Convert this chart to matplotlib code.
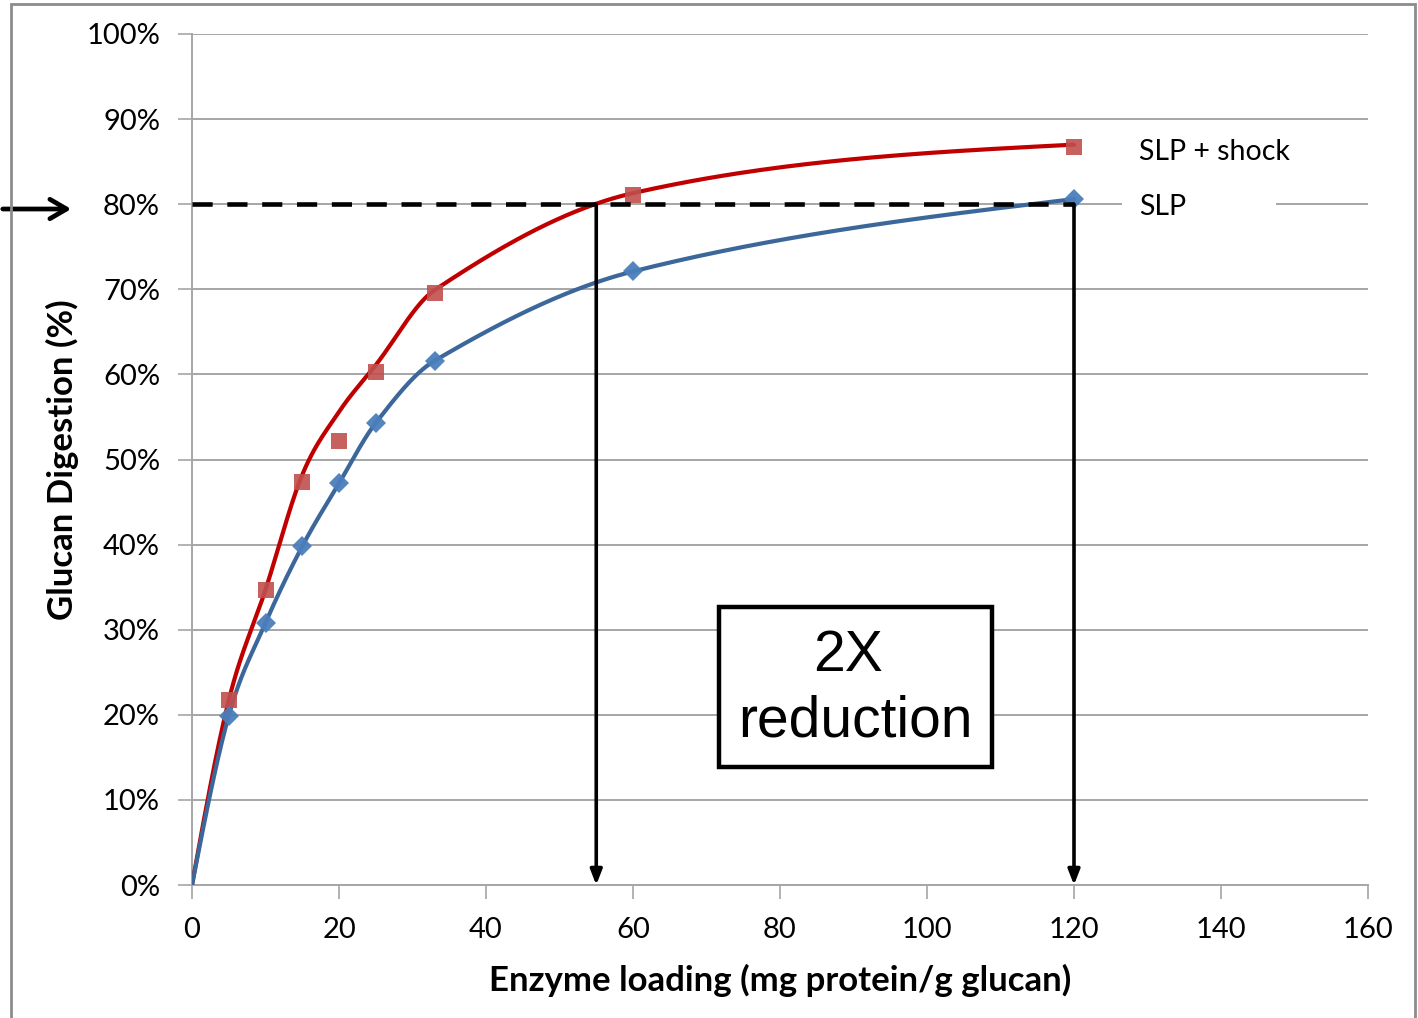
import numpy as np
import matplotlib
matplotlib.use("Agg")
import matplotlib.pyplot as plt
from matplotlib.patches import Rectangle, FancyArrowPatch

# Measured glucan digestion vs. enzyme loading
loading = [5, 10, 15, 20, 25, 33, 60, 120]
slp_shock = [21.7, 34.7, 47.4, 52.2, 60.3, 69.6, 81.1, 86.7]
slp = [19.9, 30.8, 39.8, 47.2, 54.3, 61.6, 72.1, 80.6]

# Smoothed trend curves (start at the origin)
curve_x = [0, 5, 10, 15, 20, 25, 33, 60, 120]
slp_shock_curve = [0, 21.7, 34.7, 48.2, 55.6, 61.1, 69.9, 81.3, 87.0]
slp_curve = [0, 19.9, 30.8, 39.8, 47.2, 54.3, 61.6, 72.1, 80.6]

target_level = 80
loading_reduced = 55
loading_base = 120

x_ticks = [0, 20, 40, 60, 80, 100, 120, 140, 160]
y_ticks = list(range(0, 101, 10))

FONT = "Lato"
plt.rcParams["font.family"] = [FONT, "DejaVu Sans"]


def smooth(xs, ys, n=80):
    """Piecewise cubic Hermite curve with finite-difference tangents."""
    xs = np.asarray(xs, float)
    ys = np.asarray(ys, float)
    m = np.zeros_like(ys)
    m[1:-1] = (ys[2:] - ys[:-2]) / (xs[2:] - xs[:-2])
    s0 = (ys[1] - ys[0]) / (xs[1] - xs[0])
    m[0] = 1.5 * s0 - 0.5 * m[1]
    sN = (ys[-1] - ys[-2]) / (xs[-1] - xs[-2])
    m[-1] = max(0.0, 1.5 * sN - 0.5 * m[-2])
    out_x, out_y = [], []
    for i in range(len(xs) - 1):
        h = xs[i + 1] - xs[i]
        t = np.linspace(0, 1, n, endpoint=(i == len(xs) - 2))
        h00 = 2 * t**3 - 3 * t**2 + 1
        h10 = t**3 - 2 * t**2 + t
        h01 = -2 * t**3 + 3 * t**2
        h11 = t**3 - t**2
        out_x.append(xs[i] + t * h)
        out_y.append(h00 * ys[i] + h10 * h * m[i] + h01 * ys[i + 1] + h11 * h * m[i + 1])
    return np.concatenate(out_x), np.concatenate(out_y)


W, H = 1418, 1018
fig = plt.figure(figsize=(W / 100, H / 100), dpi=100)
ax = fig.add_axes([192 / W, 1 - 885 / H, (1368 - 192) / W, (885 - 34) / H])

grid_c = "#a6a6a6"
ax.set_xlim(0, 160)
ax.set_ylim(0, 100)
ax.set_xticks(x_ticks)
ax.set_yticks(y_ticks)
ax.set_xticklabels([str(v) for v in x_ticks])
ax.set_yticklabels([f"{v}%" for v in y_ticks])
ax.tick_params(axis="both", which="major", labelsize=21, color=grid_c,
               width=1.2, length=10, direction="out")
ax.tick_params(axis="y", pad=13)
ax.tick_params(axis="x", pad=13)
ax.yaxis.grid(True, color=grid_c, linewidth=1.4)
ax.set_axisbelow(True)
for side in ("top", "right"):
    ax.spines[side].set_visible(False)
for side in ("left", "bottom"):
    ax.spines[side].set_color(grid_c)
    ax.spines[side].set_linewidth(1.4)

ax.set_xlabel("Enzyme loading (mg protein/g glucan)", fontsize=25,
              fontweight="bold", labelpad=15)
ax.set_ylabel("Glucan Digestion (%)", fontsize=25, fontweight="bold", labelpad=5)

# Curves and measured points
cx, cy = smooth(curve_x, slp_shock_curve)
ax.plot(cx, cy, color="#c00000", linewidth=3, zorder=3, solid_capstyle="round")
bx, by = smooth(curve_x, slp_curve)
ax.plot(bx, by, color="#3c679a", linewidth=3, zorder=3, solid_capstyle="round")
ax.plot(loading, slp_shock, linestyle="none", marker="s", markersize=12,
        color="#c0504d", alpha=0.9, markeredgewidth=0, zorder=4)
ax.plot(loading, slp, linestyle="none", marker="D", markersize=10.5,
        color="#4a7ebb", alpha=0.95, markeredgewidth=0, zorder=4)

# Target level and the two loadings that reach it
ax.plot([0, loading_base], [target_level, target_level], color="black",
        linewidth=3.3, linestyle=(0, (4.4, 3.2)), zorder=5)
for xv in (loading_reduced, loading_base):
    ax.annotate("", xy=(xv, 0), xytext=(xv, target_level),
                arrowprops=dict(arrowstyle="-|>,head_length=0.9,head_width=0.35",
                                color="black", lw=2.6, shrinkA=0, shrinkB=0),
                zorder=6)

# Series labels
ax.text(128.9, 86.1, "SLP + shock", fontsize=20.5, va="center", ha="left", zorder=5)
ax.text(128.9, 79.7, "SLP", fontsize=20.5, va="center", ha="left", zorder=5)
ax.add_patch(Rectangle((126.5, 79.3), 147.5 - 126.5, 1.4, facecolor="white",
                       edgecolor="none", zorder=2))

# Annotation box
ax.add_patch(Rectangle((71.7, 13.9), 108.8 - 71.7, 32.7 - 13.9, facecolor="white",
                       edgecolor="black", linewidth=3.2, zorder=7))
box_font = ["Liberation Sans", "DejaVu Sans"]
ax.text(89.3, 26.9, "2X", fontsize=41, ha="center", va="center",
        family=box_font, zorder=8)
ax.text(90.2, 19.2, "reduction", fontsize=41, ha="center", va="center",
        family=box_font, zorder=8)

# Arrow pointing at the target level
fig.patches.append(FancyArrowPatch((0 / W, 1 - 209 / H), (74 / W, 1 - 209 / H),
                                   transform=fig.transFigure,
                                   arrowstyle="->,head_length=12,head_width=7",
                                   color="black", lw=3.4, mutation_scale=1))

# Outer frame
fig.patches.append(Rectangle((11 / W, -0.05), (1415 - 11) / W, 1.05 - 4 / H,
                             transform=fig.transFigure, fill=False,
                             edgecolor="#8c8c8c", linewidth=2))

fig.savefig("out.png", dpi=100)
